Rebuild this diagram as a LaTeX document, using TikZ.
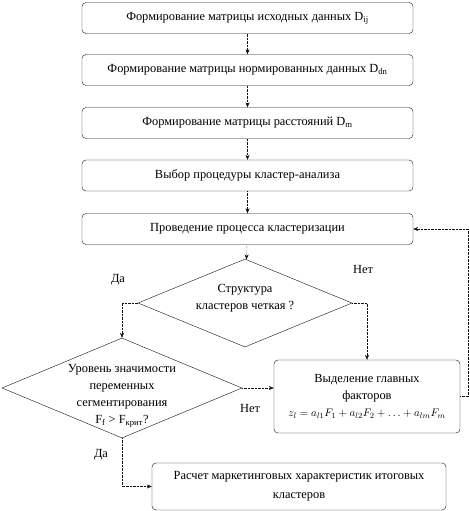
\documentclass[tikz,border=0pt]{standalone}
\usepackage{fontspec}
\setmainfont{Liberation Serif}
\usetikzlibrary{arrows.meta, shapes.geometric, calc}
\definecolor{Ink}{HTML}{111111}

\tikzset{
    stepbox/.style={draw=Ink, thin, rounded corners=4pt, align=center,
        minimum width=331, minimum height=31, inner sep=2pt,
        font=\fontsize{12.4}{17}\selectfont},
    checkbox/.style={draw=Ink, thin, diamond, inner sep=0pt},
    checktext/.style={align=center, font=\fontsize{12.4}{17}\selectfont},
    flow/.style={draw=Ink, densely dotted, thin, -{Stealth[length=5pt, width=4pt]}},
    answer/.style={font=\fontsize{12.4}{15}\selectfont, inner sep=1pt},
}

\begin{document}
\begin{tikzpicture}[x=1pt, y=-1pt]
\useasboundingbox (0,0) rectangle (469,511);

% steps of the procedure
\node[stepbox] (step-init)  at (247.5, 18)    {Формирование матрицы исходных данных D\textsubscript{ij}};
\node[stepbox] (step-norm)  at (247.5, 70)    {Формирование матрицы нормированных данных D\textsubscript{dn}};
\node[stepbox] (step-dist)  at (247.5, 123)   {Формирование матрицы расстояний D\textsubscript{m}};
\node[stepbox] (step-proc)  at (247.5, 175.5) {Выбор процедуры кластер-анализа};
\node[stepbox] (step-clust) at (247.5, 229)   {Проведение процесса кластеризации};

% decisions
\node[checkbox, minimum width=214, minimum height=88] (check-struct) at (245, 303) {};
\node[checktext] (check-struct-text) at (245, 298) {Структура\\кластеров четкая ?};

\node[checkbox, minimum width=240, minimum height=100] (check-signif) at (122, 388) {};
\node[checktext] (check-signif-text) at (122, 396)
    {Уровень значимости\\переменных\\сегментирования\\F\textsubscript{f} > F\textsubscript{крит}?};

\node[stepbox, minimum width=186, minimum height=73] (factors) at (367, 396.5)
    {Выделение главных\\факторов\\
     {\fontsize{11.2}{14}\selectfont$z_l = a_{l1}F_1 + a_{l2}F_2 + \ldots + a_{lm}F_m$}};
\node[stepbox, minimum width=294, minimum height=47, font=\fontsize{12.4}{19}\selectfont]
    (marketing) at (299, 486.5)
    {Расчет маркетинговых характеристик итоговых\\кластеров};

% connectors
\draw[flow] (step-init) -- (step-norm);
\draw[flow] (step-norm) -- (step-dist);
\draw[flow] (step-dist) -- (step-proc);
\draw[flow] (step-proc) -- (step-clust);
\draw[flow] (step-clust) -- (check-struct);

\draw[flow] (check-struct.west) -| (check-signif.north);
\draw[flow] (check-struct.east) -| (factors.north);
\draw[flow] (check-signif.east) -- (check-signif.east -| factors.west);
\draw[flow] (check-signif.south) |- (marketing.west);
\draw[flow] (factors.east) -- ++(8,0) |- (step-clust.east);

% answers
\node[answer] (yes-struct) at (118, 280) {Да};
\node[answer] (no-struct)  at (363, 269) {Нет};
\node[answer] (no-signif)  at (250, 408) {Нет};
\node[answer] (yes-signif) at (101, 455) {Да};

\end{tikzpicture}
\end{document}
